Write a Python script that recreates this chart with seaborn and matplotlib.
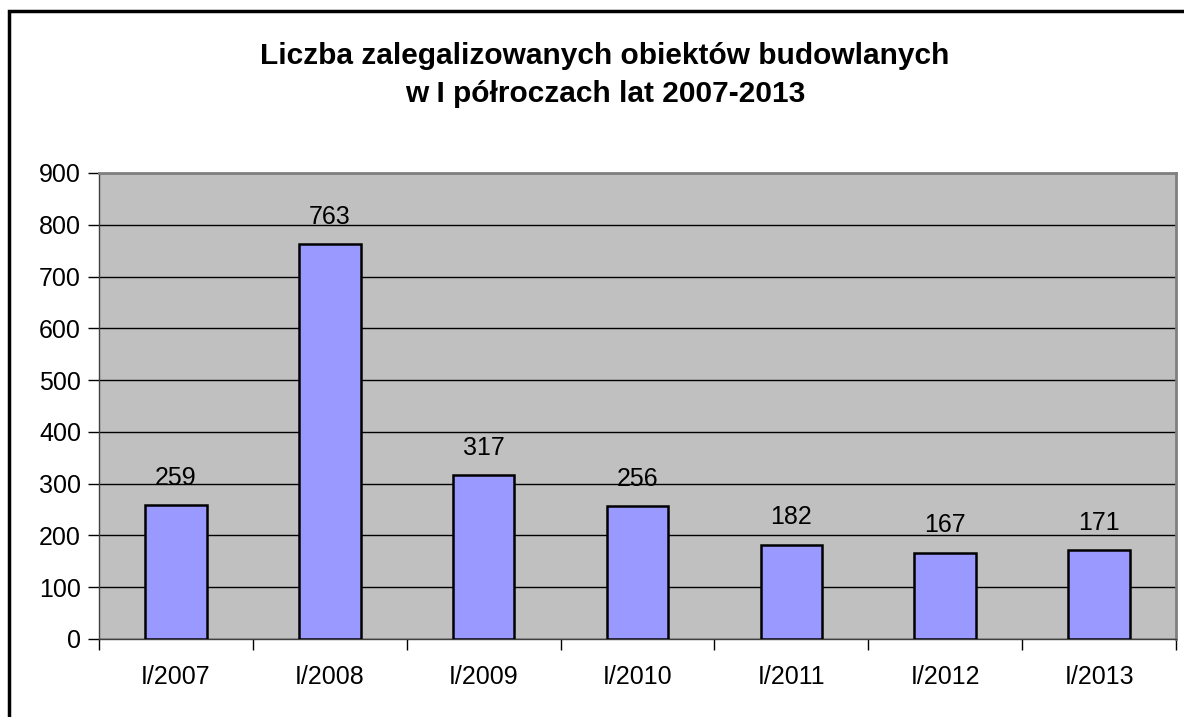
import matplotlib
matplotlib.use("Agg")
import matplotlib.pyplot as plt
import seaborn as sns
import pandas as pd
from matplotlib.patches import Rectangle

categories = ["I/2007", "I/2008", "I/2009", "I/2010", "I/2011", "I/2012", "I/2013"]
values = [259, 763, 317, 256, 182, 167, 171]
y_ticks = [0, 100, 200, 300, 400, 500, 600, 700, 800, 900]
title = "Liczba zalegalizowanych obiektów budowlanych\nw I półroczach lat 2007-2013"

sns.set_style("white")
plt.rcParams["font.family"] = ["Liberation Sans", "DejaVu Sans"]
plt.rcParams["text.color"] = "black"
plt.rcParams["xtick.color"] = "black"
plt.rcParams["ytick.color"] = "black"
plt.rcParams["xtick.labelcolor"] = "black"
plt.rcParams["ytick.labelcolor"] = "black"

W, H = 1184, 717
fig = plt.figure(figsize=(W / 100, H / 100), dpi=100)
fig.patch.set_facecolor("white")

left, right, top, bottom = 99, 1176, 173, 639
ax = fig.add_axes([left / W, 1 - bottom / H, (right - left) / W, (bottom - top) / H])

df = pd.DataFrame({"cat": categories, "val": values})
sns.barplot(data=df, x="cat", y="val", ax=ax, color="#9999FF", saturation=1,
            width=0.4, edgecolor="black", linewidth=1.8, zorder=3)

FS = 18
ax.set_facecolor("#C0C0C0")
ax.set_ylim(0, 900)
ax.set_xlim(-0.5, len(categories) - 0.5)
ax.set_yticks(y_ticks)
ax.set_yticklabels([str(t) for t in y_ticks], fontsize=FS, color="black")
ax.yaxis.grid(True, color="black", linewidth=1.0, zorder=1)
ax.set_axisbelow(True)
ax.set_xlabel("")
ax.set_ylabel("")

# x ticks at category boundaries, labels at centers
ax.set_xticks([i - 0.5 for i in range(len(categories) + 1)])
ax.set_xticklabels([""] * (len(categories) + 1))
ax.set_xticks(range(len(categories)), minor=True)
ax.set_xticklabels(categories, minor=True, fontsize=FS, color="black")
ax.tick_params(axis="x", which="major", direction="out", length=8, width=1, color="black", bottom=True)
ax.tick_params(axis="x", which="minor", length=0, pad=19)
ax.tick_params(axis="y", direction="out", length=8, width=1, color="black", left=True, pad=5)

for s in ["top", "right"]:
    ax.spines[s].set_color("#808080")
    ax.spines[s].set_linewidth(2)
ax.spines["left"].set_color("#404040")
ax.spines["left"].set_linewidth(1)
ax.spines["bottom"].set_color("#404040")
ax.spines["bottom"].set_linewidth(1)

for i, v in enumerate(values):
    ax.annotate(str(v), (i, v), xytext=(0, 11), textcoords="offset points",
                ha="center", va="bottom", fontsize=FS, color="black")

fig.text(605 / W, 1 - 75 / H, title, ha="center", va="center",
         fontsize=21.5, fontweight="bold", linespacing=1.45, color="black")

fig.patches.append(Rectangle((9 / W, -0.1), 1.2, 1 - 11 / H + 0.1, transform=fig.transFigure,
                             fill=False, edgecolor="black", linewidth=2.5, zorder=10))

fig.savefig("out.png", dpi=100, facecolor="white")
